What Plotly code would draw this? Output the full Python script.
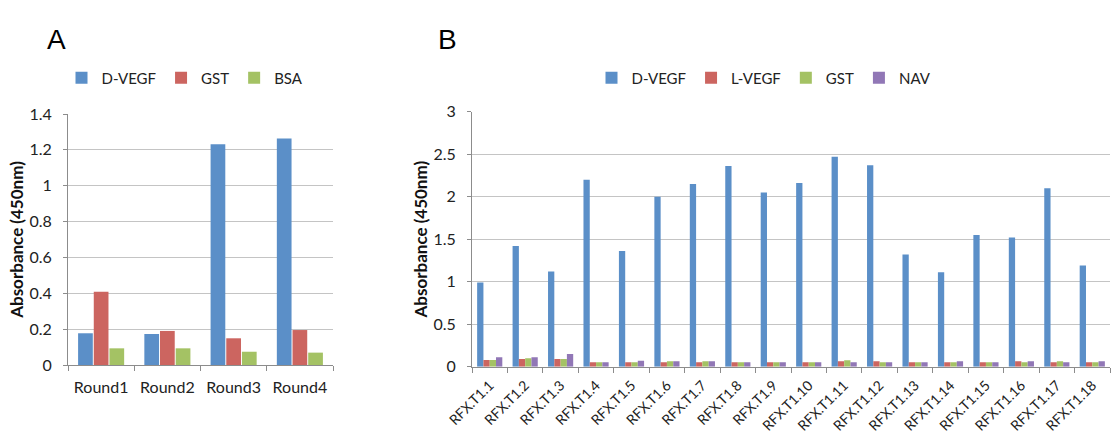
import plotly.graph_objects as go

# ---- Panel A data ----
rounds = ["Round1", "Round2", "Round3", "Round4"]
a_dvegf = [0.177, 0.173, 1.231, 1.264]
a_gst = [0.409, 0.190, 0.149, 0.195]
a_bsa = [0.093, 0.093, 0.074, 0.069]

# ---- Panel B data ----
clones = [f"RFX.T1.{i}" for i in range(1, 19)]
b_dvegf = [0.99, 1.42, 1.12, 2.20, 1.36, 2.00, 2.15, 2.36, 2.05,
           2.16, 2.47, 2.37, 1.32, 1.11, 1.55, 1.52, 2.10, 1.19]
b_lvegf = [0.078, 0.090, 0.090, 0.051, 0.051, 0.051, 0.051, 0.051, 0.051,
           0.051, 0.063, 0.063, 0.051, 0.051, 0.051, 0.063, 0.051, 0.051]
b_gst = [0.078, 0.098, 0.090, 0.051, 0.051, 0.063, 0.063, 0.051, 0.051,
         0.051, 0.075, 0.051, 0.051, 0.051, 0.051, 0.051, 0.063, 0.051]
b_nav = [0.110, 0.110, 0.149, 0.051, 0.070, 0.063, 0.063, 0.051, 0.051,
         0.051, 0.051, 0.051, 0.051, 0.063, 0.051, 0.063, 0.051, 0.063]

BLUE = "#5b8fc8"
RED = "#cc6560"
GREEN = "#a4c264"
PURPLE = "#9177b6"
FONT = "Lato"
GRID = "#c4c4c4"
AXIS = "#8c8c8c"

fig = go.Figure()

for name, vals, col in [("D-VEGF", a_dvegf, BLUE), ("GST", a_gst, RED), ("BSA", a_bsa, GREEN)]:
    fig.add_trace(go.Bar(x=rounds, y=vals, name=name, width=0.222,
                         marker=dict(color=col, line=dict(width=0)),
                         xaxis="x", yaxis="y", legend="legend"))

for name, vals, col in [("D-VEGF", b_dvegf, BLUE), ("L-VEGF", b_lvegf, RED),
                        ("GST", b_gst, GREEN), ("NAV", b_nav, PURPLE)]:
    fig.add_trace(go.Bar(x=clones, y=vals, name=name, marker=dict(color=col, line=dict(width=0)),
                         xaxis="x2", yaxis="y2", legend="legend2"))

W, H = 1111, 440


def xax(domain, anchor, fsize, angle=0, standoff=6):
    return dict(domain=domain, anchor=anchor, type="category", automargin=False,
                tickson="boundaries", showgrid=False, tickangle=angle,
                ticklabelstandoff=standoff,
                showline=True, linecolor=AXIS, linewidth=1, ticks="outside",
                tickcolor=AXIS, ticklen=5,
                tickfont=dict(family=FONT, size=fsize, color="#222"))


def yax(domain, anchor, rng, dtick):
    return dict(domain=domain, anchor=anchor, range=rng, dtick=dtick, automargin=False,
                showgrid=True, gridcolor=GRID, gridwidth=1, zeroline=False,
                showline=True, linecolor=AXIS, linewidth=1, ticks="outside",
                tickcolor=AXIS, ticklen=4, ticklabelstandoff=8,
                tickfont=dict(family=FONT, size=16, color="#222"),
                title=dict(text="<b>Absorbance (450nm)</b>",
                           font=dict(family=FONT, size=17, color="#111"), standoff=1))


fig.update_layout(
    width=W, height=H,
    margin=dict(l=0, r=0, t=0, b=0, autoexpand=False),
    paper_bgcolor="white", plot_bgcolor="white",
    barmode="group",
    bargap=0.29, bargroupgap=0,
    font=dict(family=FONT, size=15, color="#222"),
    xaxis=xax([68 / W, 333 / W], "y", 16, 0, 8),
    yaxis=yax([(H - 365) / H, (H - 114) / H], "x", [0, 1.4], 0.2),
    xaxis2=xax([472 / W, 1110 / W], "y2", 14, -45, 4),
    yaxis2=yax([(H - 366.7) / H, (H - 111.7) / H], "x2", [0, 3], 0.5),
    legend=dict(orientation="h", x=185 / W, xanchor="center", y=(H - 78) / H, yanchor="middle",
                font=dict(family=FONT, size=15, color="#222"), itemwidth=30,
                bgcolor="rgba(0,0,0,0)", traceorder="normal"),
    legend2=dict(orientation="h", x=764 / W, xanchor="center", y=(H - 78) / H, yanchor="middle",
                 font=dict(family=FONT, size=15, color="#222"), itemwidth=30,
                 bgcolor="rgba(0,0,0,0)", traceorder="normal"),
    showlegend=True,
    annotations=[
        dict(text="A", x=45 / W, y=(H - 22) / H, xref="paper", yref="paper",
             showarrow=False, font=dict(family="Liberation Sans", size=28, color="black")),
        dict(text="B", x=447 / W, y=(H - 22) / H, xref="paper", yref="paper",
             showarrow=False, font=dict(family="Liberation Sans", size=28, color="black")),
    ],
)

fig.write_html("out.html", config={"displayModeBar": False},
               post_script="document.body.style.margin='0';")
